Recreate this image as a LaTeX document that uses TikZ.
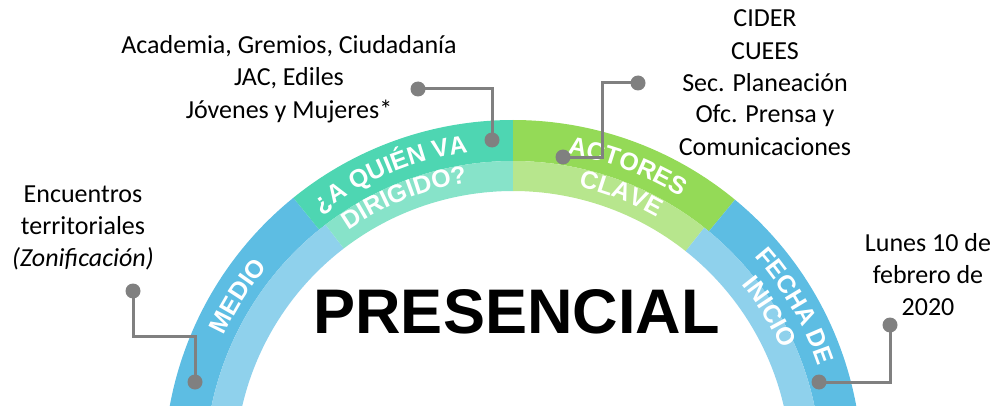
\documentclass[tikz,border=0pt]{standalone}
\usepackage{fontspec}
\setmainfont{Carlito}
\newfontfamily\arialfont{Liberation Sans}
\usepackage{xcolor}
\usepackage{tikz}
\usetikzlibrary{decorations.text}

\definecolor{bluedark}{HTML}{5DBDE3}
\definecolor{bluelight}{HTML}{8FD1EC}
\definecolor{tealdark}{HTML}{4ED6B2}
\definecolor{teallight}{HTML}{87E3C9}
\definecolor{greendark}{HTML}{94DA57}
\definecolor{greenlight}{HTML}{B7E68D}
\definecolor{calloutgray}{HTML}{808080}
\newcommand\arcfont{\fontsize{25}{30}\selectfont\arialfont\bfseries}

\begin{document}
\begin{tikzpicture}[x=1pt,y=1pt]
			\tikzstyle{infotext} = [align=center, font=\fontsize{26}{32}\selectfont, inner sep=0pt, anchor=base]
			\tikzstyle{calloutdot} = [circle, fill=calloutgray, inner sep=0pt, minimum size=15pt]
			\tikzset{callout/.style = {draw=calloutgray, line width=3pt}}
			\tikzset{arctext/.style = {decorate, decoration={text along path, text align=center, text color=white, text={|\arcfont|#1}}}}
			
			\useasboundingbox (0,0) rectangle (995,405);
			\coordinate (C) at (513,-64);
			
			% rainbow bands
			\begin{scope}
			\clip (0,0) rectangle (995,405);
			\foreach \from/\to/\col in {190/129/bluedark, 129/90/tealdark, 90/50.5/greendark, 50.5/-10/bluedark}
				\fill[\col] ([shift={(\from:349)}]C) arc[start angle=\from, end angle=\to, radius=349] -- ([shift={(\to:308)}]C) arc[start angle=\to, end angle=\from, radius=308] -- cycle;
			\foreach \from/\to/\col in {190/127.5/bluelight, 127.5/90/teallight, 90/51.6/greenlight, 51.6/-10/bluelight}
				\fill[\col] ([shift={(\from:308)}]C) arc[start angle=\from, end angle=\to, radius=308] -- ([shift={(\to:278)}]C) arc[start angle=\to, end angle=\from, radius=278] -- cycle;
			\end{scope}
			
			\path[arctext={MEDIO}] ([shift={(177.9:318)}]C) arc[start angle=177.9, end angle=117.9, radius=318];
			\path[arctext={¿A QUIÉN VA}] ([shift={(152.5:320)}]C) arc[start angle=152.5, end angle=72.5, radius=320];
			\path[arctext={DIRIGIDO?}] ([shift={(151.8:290)}]C) arc[start angle=151.8, end angle=71.8, radius=290];
			\path[arctext={ACTORES}] ([shift={(109.3:320)}]C) arc[start angle=109.3, end angle=29.3, radius=320];
			\path[arctext={CLAVE}] ([shift={(108.6:290)}]C) arc[start angle=108.6, end angle=28.6, radius=290];
			\path[arctext={FECHA DE}] ([shift={(60:322)}]C) arc[start angle=60, end angle=0, radius=322];
			\path[arctext={INICIO}] ([shift={(61.5:294)}]C) arc[start angle=61.5, end angle=1.5, radius=294];
			
			\node[font=\fontsize{63}{70}\selectfont\arialfont\bfseries, anchor=base, inner sep=0pt](title) at (516.5,72) {PRESENCIAL};
			
			\node[infotext](medio) at (83,139) {Encuentros\\territoriales\\\textit{(Zonificación)}};
			\node[infotext](dirigido) at (289,287) {Academia, Gremios, Ciudadanía\\JAC, Ediles\\Jóvenes y Mujeres*};
			\node[infotext](actores) at (765,250) {CIDER\\CUEES\\Sec. Planeación\\Ofc. Prensa y\\Comunicaciones};
			\node[infotext](fecha) at (928,90) {Lunes 10 de\\febrero de\\2020};
			
			\node[calloutdot](medioA) at (133,114) {};
			\node[calloutdot](medioB) at (195,23) {};
			\coordinate (medioK) at (195,69);
			\draw[callout](medioA.center) |- (medioK) -- (medioB.center);
			
			\node[calloutdot](dirigidoA) at (418,316) {};
			\node[calloutdot](dirigidoB) at (492,265) {};
			\draw[callout](dirigidoA.center) -| (dirigidoB.center);
			
			\node[calloutdot](actoresA) at (638,322) {};
			\node[calloutdot](actoresB) at (563,248) {};
			\coordinate (actoresK) at (602,248);
			\draw[callout](actoresA.center) -| (actoresK) -- (actoresB.center);
			
			\node[calloutdot](fechaA) at (890,80) {};
			\node[calloutdot](fechaB) at (819,23) {};
			\draw[callout](fechaA.center) |- (fechaB.center);
			
			\end{tikzpicture}
\end{document}
